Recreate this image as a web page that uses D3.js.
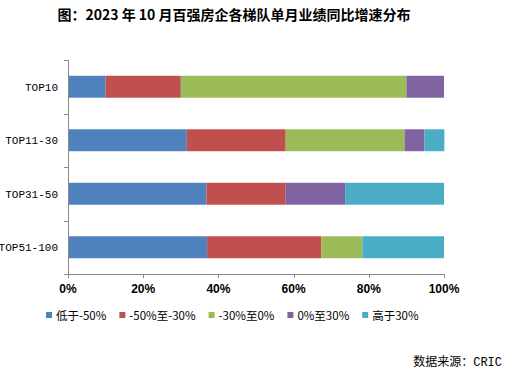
<!DOCTYPE html>
<html><head><meta charset="utf-8">
<script src="https://cdn.jsdelivr.net/npm/d3@7/dist/d3.min.js"></script>
<style>body{margin:0;background:#fff;}svg{display:block;}</style>
</head><body>
<svg id="c" width="524" height="378"></svg>
<script>
const categories = ["TOP10", "TOP11-30", "TOP31-50", "TOP51-100"];
const seriesNames = ["低于-50%", "-50%至-30%", "-30%至0%", "0%至30%", "高于30%"];
const s1 = [10.0, 31.6, 36.8, 37.0];
const s2 = [20.0, 26.3, 21.1, 30.4];
const s3 = [60.0, 31.6, 0.0, 10.9];
const s4 = [10.0, 5.3, 15.8, 0.0];
const s5 = [0.0, 5.3, 26.3, 21.7];
const xTicks = [0, 20, 40, 60, 80, 100];
const colors = ["#4F81BD", "#C0504D", "#9BBB59", "#8064A2", "#4BACC6"];

const seriesVals = [s1, s2, s3, s4, s5];
const rows = categories.map((c, i) => {
  const r = {cat: c};
  seriesNames.forEach((n, j) => r[n] = seriesVals[j][i]);
  return r;
});
const stacked = d3.stack().keys(seriesNames)(rows);

const svg = d3.select("#c");
const m = {l: 68, r: 444, t: 60, b: 274};
const x = d3.scaleLinear().domain([0, 100]).range([m.l, m.r]);
const y = d3.scaleBand().domain(categories).range([m.t, m.b]).paddingInner(0.59).paddingOuter(0.295);
const band = d3.scaleBand().domain(categories).range([m.t, m.b]);

// title
svg.append("text").attr("x", 234).attr("y", 20).attr("text-anchor", "middle")
  .attr("font-family", "'Noto Sans CJK SC', sans-serif").attr("font-weight", "bold")
  .attr("font-size", 14).attr("fill", "#000")
  .text("图：2023 年 10 月百强房企各梯队单月业绩同比增速分布");

// bars
svg.append("g").selectAll("g").data(stacked).join("g")
  .attr("fill", (d, i) => colors[i])
  .selectAll("rect").data(d => d).join("rect")
  .attr("x", d => x(d[0])).attr("width", d => x(d[1]) - x(d[0]))
  .attr("y", d => y(d.data.cat)).attr("height", y.bandwidth());

const axisColor = "#888";
// y axis
svg.append("line").attr("x1", m.l + 0.5).attr("x2", m.l + 0.5).attr("y1", m.t).attr("y2", m.b).attr("stroke", axisColor);
const yTickPos = categories.map(c => band(c)).concat([m.b]);
svg.append("g").selectAll("line").data(yTickPos).join("line")
  .attr("x1", m.l - 4).attr("x2", m.l).attr("y1", d => Math.round(d) + 0.5).attr("y2", d => Math.round(d) + 0.5)
  .attr("stroke", axisColor);
svg.append("g").selectAll("text").data(categories).join("text")
  .attr("x", 58).attr("y", d => band(d) + band.bandwidth() / 2 + 4)
  .attr("text-anchor", "end").attr("font-family", "'Liberation Mono', monospace")
  .attr("font-size", 11).attr("fill", "#000").text(d => d);

// x axis
svg.append("line").attr("x1", m.l).attr("x2", m.r).attr("y1", m.b + 0.5).attr("y2", m.b + 0.5).attr("stroke", axisColor);
svg.append("g").selectAll("line").data(xTicks).join("line")
  .attr("x1", d => Math.round(x(d)) + 0.5).attr("x2", d => Math.round(x(d)) + 0.5)
  .attr("y1", m.b).attr("y2", m.b + 4).attr("stroke", axisColor);
svg.append("g").selectAll("text").data(xTicks).join("text")
  .attr("x", d => x(d)).attr("y", 293).attr("text-anchor", "middle")
  .attr("font-family", "'Liberation Sans', Arial, sans-serif").attr("font-weight", "bold")
  .attr("font-size", 12).attr("fill", "#000").text(d => d + "%");

// legend
const lg = svg.append("g");
let lx = 46;
seriesNames.forEach((n, i) => {
  lg.append("rect").attr("x", lx).attr("y", 312).attr("width", 6).attr("height", 6).attr("fill", colors[i]);
  const t = lg.append("text").attr("x", lx + 10).attr("y", 320)
    .attr("font-family", "'Noto Sans CJK SC', sans-serif").attr("font-size", 11.5)
    .attr("fill", "#000").text(n);
  lx = lx + 10 + t.node().getComputedTextLength() + 13;
});

// source
const src = svg.append("text").attr("x", 502).attr("y", 366).attr("text-anchor", "end")
  .attr("font-family", "'Noto Sans CJK SC', sans-serif").attr("font-size", 12)
  .attr("fill", "#000");
src.append("tspan").text("数据来源：");
src.append("tspan").attr("font-family", "'Liberation Mono', monospace").text("CRIC");
</script>
</body></html>
